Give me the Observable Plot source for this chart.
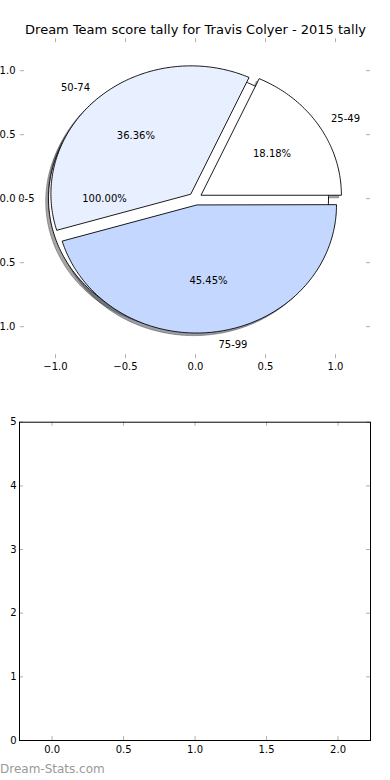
<!DOCTYPE html>
<html><head><meta charset="utf-8">
<script src="https://cdn.jsdelivr.net/npm/d3@7"></script>
<script src="https://cdn.jsdelivr.net/npm/@observablehq/plot@0.6"></script>
<style>
body{margin:0;background:#fff;font-family:"DejaVu Sans",sans-serif;}
#wrap{position:relative;width:390px;height:780px;overflow:hidden;background:#fff;}
#pie{position:absolute;left:0;top:0;}
#bar{position:absolute;left:0;top:390px;}
#wm{position:absolute;left:0;top:762px;font:12px "DejaVu Sans";color:#999;white-space:nowrap;}
</style></head><body>
<div id="wrap"><div id="pie"></div><div id="bar"></div><div id="wm"></div></div>
<script>
const title = "Dream Team score tally for Travis Colyer - 2015 tally";
// first pie call: a single wedge
const pieACategories = ["0-5"];
const pieAValues = [1];
const pieAColors = ["#ffffff"];
// second pie call
const pieBCategories = ["25-49", "50-74", "75-99"];
const pieBValues = [2, 4, 5];
const pieBColors = ["#ffffff", "#e8f0ff", "#c4d8ff"];
const explode = 0.05;
const pieTicks = [-1, -0.5, 0, 0.5, 1];
const barXTicks = [0, 0.5, 1, 1.5, 2];
const barYTicks = [0, 1, 2, 3, 4, 5];
const watermark = "Dream-Stats.com";

function buildPie(cats, vals, colors) {
  const total = d3.sum(vals);
  let a = 0;
  const wedges = [], labels = [];
  cats.forEach((c, i) => {
    const a1 = a, a2 = a + 360 * vals[i] / total;
    a = a2;
    const mid = (a1 + a2) / 2 * Math.PI / 180;
    const ox = explode * Math.cos(mid), oy = explode * Math.sin(mid);
    const pts = [];
    const full = vals[i] === total;
    if (!full) pts.push({x: ox, y: oy});
    const n = Math.max(2, Math.ceil(a2 - a1));
    for (let k = 0; k <= n; k++) {
      const t = (a1 + (a2 - a1) * k / n) * Math.PI / 180;
      pts.push({x: ox + Math.cos(t), y: oy + Math.sin(t)});
    }
    wedges.push({cat: c, color: colors[i], pts});
    const lx = ox + 1.1 * Math.cos(mid), ly = oy + 1.1 * Math.sin(mid);
    labels.push({x: lx, y: ly, text: c, side: lx > 0 ? "start" : "end"});
    labels.push({x: ox + 0.6 * Math.cos(mid), y: oy + 0.6 * Math.sin(mid),
      text: (100 * vals[i] / total).toFixed(2) + "%", side: "middle"});
  });
  return {wedges, labels};
}

const pA = buildPie(pieACategories, pieAValues, pieAColors);
const pB = buildPie(pieBCategories, pieBValues, pieBColors);
const allWedges = [...pA.wedges, ...pB.wedges];
const allLabels = [...pA.labels, ...pB.labels];

function shadowColor(c) {
  const r = d3.rgb(c);
  return d3.rgb(r.r * 0.3, r.g * 0.3, r.b * 0.3).formatHex();
}

const pieW = 390, pieH = 390, pmT = 38.2, pmB = 31.8, pmL = 20, pmR = 20;
const pfw = pieW - pmL - pmR, pfh = pieH - pmT - pmB;
const tickGray = "#b0b0b0";

const shadowMarks = allWedges.map(w => Plot.line(
  w.pts.map(p => ({x: p.x - 0.02, y: p.y - 0.02})),
  {x: "x", y: "y", curve: "linear-closed", fill: shadowColor(w.color), fillOpacity: 0.5,
   stroke: shadowColor(w.color), strokeOpacity: 0.5, strokeWidth: 0.9}));
const wedgeMarks = allWedges.map(w => Plot.line(w.pts,
  {x: "x", y: "y", curve: "linear-closed", fill: w.color, stroke: "black", strokeWidth: 0.9}));

const pie = Plot.plot({
  width: pieW, height: pieH,
  marginTop: pmT, marginBottom: pmB, marginLeft: pmL, marginRight: pmR,
  x: {domain: [-1.25, 1.25]}, y: {domain: [-1.25, 1.25]},
  style: {fontFamily: "DejaVu Sans", fontSize: "10px", background: "white", color: "black"},
  marks: [
    ...shadowMarks,
    ...wedgeMarks,
    Plot.text(allLabels.filter(d => d.side === "start"), {x: "x", y: "y", text: "text", textAnchor: "start", fontSize: 10, fill: "black"}),
    Plot.text(allLabels.filter(d => d.side === "end"), {x: "x", y: "y", text: "text", textAnchor: "end", fontSize: 10, fill: "black"}),
    Plot.text(allLabels.filter(d => d.side === "middle"), {x: "x", y: "y", text: "text", textAnchor: "middle", fontSize: 10, fill: "black"}),
    Plot.tickX(pieTicks, {x: d => d, insetTop: pfh - 4, stroke: tickGray}),
    Plot.tickX(pieTicks, {x: d => d, insetBottom: pfh - 4, stroke: tickGray}),
    Plot.tickY(pieTicks, {y: d => d, insetRight: pfw - 4, stroke: tickGray}),
    Plot.tickY(pieTicks, {y: d => d, insetLeft: pfw - 4, stroke: tickGray}),
    Plot.axisX(pieTicks, {anchor: "bottom", tickSize: 0, tickPadding: 4, tickFormat: ".1f", label: null, fontSize: 10}),
    Plot.axisY(pieTicks, {anchor: "left", tickSize: 0, tickPadding: 5, tickFormat: ".1f", label: null, fontSize: 10}),
    Plot.text([title], {frameAnchor: "top", dy: -9, lineAnchor: "middle", text: d => d, fontSize: 13, fill: "black"})
  ]
});
document.getElementById("pie").appendChild(pie);

const bW = 390, bH = 390, bmT = 31.7, bmB = 40, bmL = 19, bmR = 20;
const bfw = bW - bmL - bmR, bfh = bH - bmT - bmB;
const bar = Plot.plot({
  width: bW, height: bH,
  marginTop: bmT, marginBottom: bmB, marginLeft: bmL, marginRight: bmR,
  x: {domain: [-0.228, 2.227]}, y: {domain: [0, 5]},
  style: {fontFamily: "DejaVu Sans", fontSize: "10px", background: "white", color: "black"},
  marks: [
    Plot.tickX(barXTicks, {x: d => d, insetTop: bfh - 4, stroke: tickGray}),
    Plot.tickX(barXTicks, {x: d => d, insetBottom: bfh - 4, stroke: tickGray}),
    Plot.tickY(barYTicks, {y: d => d, insetRight: bfw - 4, stroke: tickGray}),
    Plot.tickY(barYTicks, {y: d => d, insetLeft: bfw - 4, stroke: tickGray}),
    Plot.frame({stroke: "black", strokeWidth: 1}),
    Plot.axisX(barXTicks, {anchor: "bottom", tickSize: 0, tickPadding: 5, tickFormat: ".1f", label: null, fontSize: 10}),
    Plot.axisY(barYTicks, {anchor: "left", tickSize: 0, tickPadding: 3, tickFormat: "d", label: null, fontSize: 10})
  ]
});
document.getElementById("bar").appendChild(bar);
document.getElementById("wm").textContent = watermark;
</script>
</body></html>
